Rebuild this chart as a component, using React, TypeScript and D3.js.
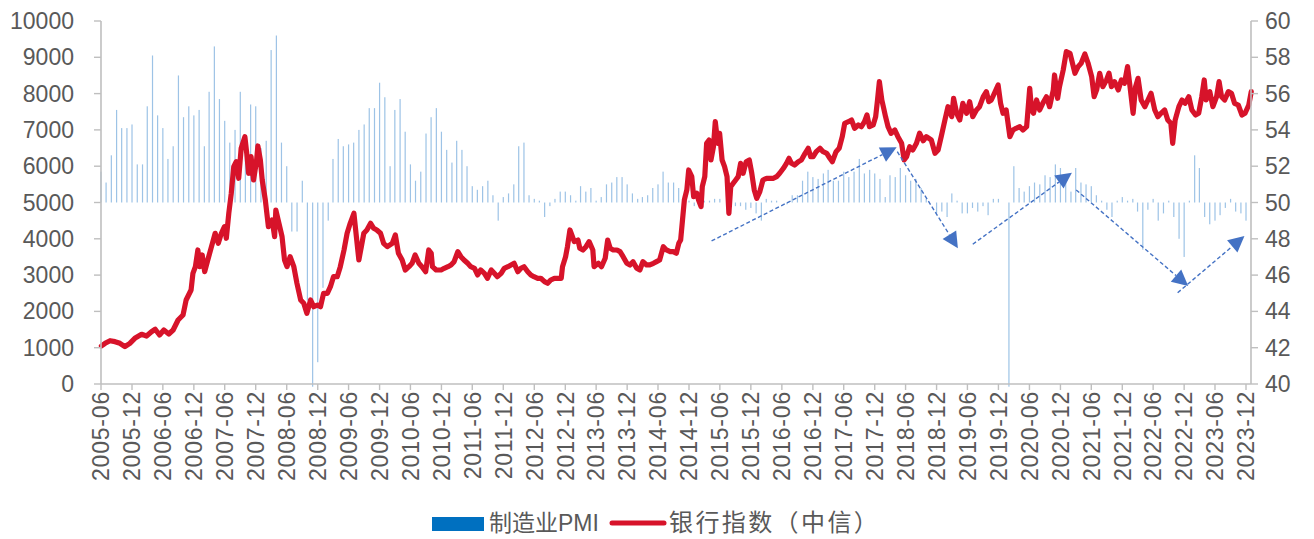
import React from "react";
import * as d3 from "d3";

// ---------------- DATA ----------------
const pmiStartYear = 2005;
const pmiStartMonth = 6; // June
// 制造业PMI monthly, 2005-06 .. 2023-12
const pmiValues: number[] = [
  51.7, 51.1, 52.6, 55.1, 54.1, 54.1, 54.3,
  52.1, 52.1, 55.3, 58.1, 54.8, 54.1, 52.4, 53.1, 57.0, 54.7, 55.3, 54.8,
  55.1, 53.1, 56.1, 58.6, 55.7, 54.5, 53.3, 54.0, 56.1, 53.2, 55.4, 55.3,
  53.0, 53.4, 58.4, 59.2, 53.3, 52.0, 48.4, 48.4, 51.2, 44.6, 38.8, 41.2,
  45.3, 49.0, 52.4, 53.5, 53.1, 53.2, 53.3, 54.0, 54.3, 55.2, 55.2, 56.6,
  55.8, 52.0, 55.1, 55.7, 53.9, 52.1, 51.2, 51.7, 53.8, 54.7, 55.2, 53.9,
  52.9, 52.2, 53.4, 52.9, 52.0, 50.9, 50.7, 50.9, 51.2, 50.4, 49.0, 50.3,
  50.5, 51.0, 53.1, 53.3, 50.4, 50.2, 50.1, 49.2, 49.8, 50.2, 50.6, 50.6,
  50.4, 50.1, 50.9, 50.6, 50.8, 50.1, 50.3, 51.0, 51.1, 51.4, 51.4, 51.0,
  50.5, 50.2, 50.3, 50.4, 50.8, 51.0, 51.7, 51.1, 51.1, 50.8, 50.3, 50.1,
  49.8, 49.9, 50.1, 50.1, 50.2, 50.2, 50.0, 49.7, 49.8, 49.8, 49.6, 49.7,
  49.4, 49.0, 50.2, 50.1, 50.1, 50.0, 49.9, 50.4, 50.4, 51.2, 51.7, 51.4,
  51.3, 51.6, 51.8, 51.2, 51.2, 51.7, 51.4, 51.7, 52.4, 51.6, 51.8, 51.6,
  51.3, 50.3, 51.5, 51.4, 51.9, 51.5, 51.2, 51.3, 50.8, 50.2, 50.0, 49.4,
  49.5, 49.2, 50.5, 50.1, 49.4, 49.4, 49.7, 49.5, 49.8, 49.3, 50.2, 50.2,
  50.0, 35.7, 52.0, 50.8, 50.6, 50.9, 51.1, 51.0, 51.5, 51.4, 52.1, 51.9,
  51.3, 50.6, 51.9, 51.1, 51.0, 50.9, 50.4, 50.1, 49.6, 49.2, 50.1, 50.3,
  50.1, 50.2, 49.5, 47.4, 49.6, 50.2, 49.0, 49.4, 50.1, 49.2, 48.0, 47.0,
  50.1, 52.6, 51.9, 49.2, 48.8, 49.0, 49.3, 49.7, 50.2, 49.5, 49.4, 49.0,
];

// 银行指数（中信）: [decimal year, index level]
const bankIndex: [number, number][] = [
  [2005.42,1047],[2005.48,1121],[2005.56,1193],[2005.64,1166],[2005.72,1121],[2005.80,1029],[2005.88,1121],[2005.96,1258],
  [2006.07,1369],[2006.15,1322],[2006.23,1441],[2006.29,1507],[2006.36,1350],[2006.43,1488],[2006.51,1378],[2006.58,1488],
  [2006.66,1763],[2006.74,1901],[2006.79,2314],[2006.87,2590],[2006.90,3049],[2006.94,3232],[2006.98,3692],[2007.01,3232],
  [2007.05,3554],[2007.09,3094],[2007.14,3416],[2007.20,3783],[2007.26,4152],[2007.31,3876],[2007.36,4152],[2007.41,4334],
  [2007.44,4014],[2007.48,4703],[2007.52,5254],[2007.56,5987],[2007.60,6124],[2007.64,5667],[2007.68,6493],[2007.74,6813],
  [2007.77,6356],[2007.80,5805],[2007.84,6262],[2007.88,5620],[2007.93,6171],[2007.95,6557],[2007.99,6171],
  [2008.02,5620],[2008.07,5069],[2008.12,4334],[2008.18,4518],[2008.22,4058],[2008.24,4794],[2008.29,4427],[2008.34,4058],
  [2008.38,3416],[2008.42,3232],[2008.47,3508],[2008.53,3232],[2008.58,2774],[2008.64,2314],[2008.69,2223],[2008.74,1948],
  [2008.80,2314],[2008.85,2130],[2008.91,2176],[2008.96,2130],[2009.01,2499],[2009.07,2499],[2009.12,2681],[2009.17,2956],
  [2009.23,2956],[2009.28,3232],[2009.34,3692],[2009.39,4152],[2009.44,4427],[2009.50,4703],[2009.54,4058],[2009.58,3416],
  [2009.62,3783],[2009.66,4152],[2009.71,4243],[2009.77,4427],[2009.82,4289],[2009.87,4243],[2009.93,4152],[2009.98,3876],
  [2010.04,3783],[2010.12,3876],[2010.17,4105],[2010.22,3600],[2010.28,3416],[2010.33,3141],[2010.39,3232],[2010.44,3325],
  [2010.49,3554],[2010.55,3325],[2010.60,3232],[2010.66,3094],
  [2010.71,3692],[2010.75,3600],[2010.77,3232],[2010.83,3141],[2010.91,3141],[2010.96,3187],[2011.02,3232],[2011.07,3279],
  [2011.12,3370],[2011.18,3646],[2011.23,3508],[2011.28,3416],[2011.34,3325],[2011.39,3232],[2011.45,3187],[2011.50,3003],
  [2011.55,3141],[2011.61,3049],[2011.66,2912],[2011.72,3141],[2011.77,3049],[2011.82,2956],[2011.88,3049],[2011.93,3187],
  [2011.99,3232],[2012.04,3279],[2012.09,3325],[2012.15,3094],[2012.20,3187],[2012.25,3232],[2012.31,3094],[2012.36,3003],
  [2012.41,2956],[2012.47,2912],[2012.52,2912],[2012.58,2819],[2012.63,2774],[2012.68,2865],[2012.74,2912],[2012.79,2912],
  [2012.85,2912],[2012.87,3232],[2012.92,3508],[2012.95,3783],[2012.99,4243],[2013.02,4105],[2013.06,3921],[2013.12,3967],
  [2013.15,3738],[2013.20,3692],[2013.25,3783],[2013.30,3921],[2013.36,3692],[2013.38,3232],
  [2013.45,3325],[2013.50,3232],[2013.56,3463],[2013.60,3967],[2013.64,3738],[2013.69,3692],[2013.75,3692],[2013.80,3646],
  [2013.85,3508],[2013.91,3325],[2013.96,3279],[2014.01,3370],[2014.07,3187],[2014.12,3141],[2014.17,3370],[2014.23,3279],
  [2014.28,3279],[2014.34,3325],[2014.39,3370],[2014.44,3416],[2014.50,3783],[2014.55,3692],[2014.61,3646],[2014.66,3646],
  [2014.71,3600],[2014.75,3876],[2014.78,3967],[2014.81,4518],[2014.84,5069],[2014.88,5345],[2014.91,5896],[2014.96,5712],
  [2014.99,5161],[2015.04,5254],[2015.07,5069],[2015.11,4885],[2015.13,5437],[2015.17,5712],[2015.20,6631],[2015.24,6722],
  [2015.27,6171],[2015.31,6538],[2015.34,7226],[2015.38,6631],[2015.41,6907],[2015.45,6171],[2015.49,5987],[2015.53,5712],
  [2015.56,4703],[2015.59,5437],[2015.63,5529],[2015.67,5620],[2015.71,5712],[2015.75,6080],[2015.79,5805],[2015.84,6124],
  [2015.89,6171],[2015.93,5805],[2015.97,5345],[2016.01,5116],[2016.06,5300],
  [2016.11,5620],[2016.17,5667],[2016.22,5667],[2016.28,5667],[2016.33,5712],[2016.38,5805],[2016.44,5942],[2016.49,6080],
  [2016.53,6218],[2016.57,6080],[2016.62,6033],[2016.68,6124],[2016.73,6171],[2016.79,6356],[2016.84,6493],[2016.88,6262],
  [2016.92,6262],[2016.97,6400],[2017.03,6493],[2017.08,6400],[2017.14,6356],[2017.19,6218],[2017.23,6124],[2017.29,6400],
  [2017.34,6493],[2017.39,6813],[2017.43,7182],[2017.49,7226],[2017.54,7273],[2017.59,7045],[2017.65,7136],[2017.70,7089],
  [2017.75,7226],[2017.79,7411],[2017.83,7089],[2017.89,7136],[2017.93,7364],[2017.96,7824],[2017.99,8328],[2018.03,7824],
  [2018.06,7595],[2018.09,7364],[2018.13,7089],[2018.18,6907],[2018.24,6998],[2018.29,6813],[2018.35,6631],[2018.39,6171],
  [2018.43,6262],[2018.48,6538],[2018.53,6447],[2018.59,6631],[2018.64,6907],
  [2018.70,6700],[2018.75,6813],[2018.83,6722],[2018.89,6356],[2018.94,6447],[2018.99,6813],[2019.05,7273],[2019.10,7640],
  [2019.16,7364],[2019.19,7871],[2019.24,7457],[2019.29,7273],[2019.34,7733],[2019.40,7457],[2019.45,7778],[2019.50,7364],
  [2019.56,7549],[2019.61,7640],[2019.67,7915],[2019.72,8053],[2019.76,7778],[2019.80,7824],[2019.85,8009],[2019.91,8237],
  [2019.95,7733],[2019.99,7457],[2020.04,7549],[2020.10,6813],[2020.15,6998],[2020.20,7045],[2020.26,7089],[2020.31,6998],
  [2020.37,7089],[2020.42,8146],[2020.45,7549],[2020.48,7457],[2020.53,7824],[2020.58,7549],[2020.63,7733],[2020.69,7915],
  [2020.74,7640],[2020.80,8100],[2020.82,8513],[2020.87,7871],[2020.90,8191],[2020.96,8651],[2021.01,9155],[2021.07,9111],
  [2021.11,8835],[2021.15,8560],[2021.20,8742],[2021.25,8835],
  [2021.31,9090],[2021.36,8850],[2021.42,8466],[2021.46,7915],[2021.50,8100],[2021.55,8560],[2021.60,8191],[2021.66,8375],
  [2021.70,8560],[2021.74,8191],[2021.79,8329],[2021.85,8100],[2021.90,8375],[2021.95,8283],[2022.00,8742],[2022.04,8191],
  [2022.09,7457],[2022.13,8191],[2022.17,8421],[2022.22,7824],[2022.28,7640],[2022.33,7824],[2022.38,8009],[2022.44,7549],
  [2022.49,7364],[2022.54,7457],[2022.60,7549],[2022.65,7273],[2022.70,7182],[2022.73,6631],[2022.77,7273],[2022.83,7640],
  [2022.88,7824],[2022.93,7733],[2022.99,7915],[2023.04,7549],[2023.10,7411],[2023.15,7457],[2023.20,7915],[2023.24,8375],
  [2023.27,7824],[2023.33,8053],[2023.38,7640],[2023.44,7915],[2023.48,8329],[2023.52,7915],[2023.57,7824],[2023.63,8053],
  [2023.68,8009],[2023.73,7733],[2023.79,7686],[2023.85,7411],[2023.90,7457],[2023.96,7686],[2024.00,8053],
];

const xTickLabels: string[] = [
  "2005-06","2005-12","2006-06","2006-12","2007-06","2007-12","2008-06","2008-12",
  "2009-06","2009-12","2010-06","2010-12","2011-06","2011-12","2012-06","2012-12",
  "2013-06","2013-12","2014-06","2014-12","2015-06","2015-12","2016-06","2016-12",
  "2017-06","2017-12","2018-06","2018-12","2019-06","2019-12","2020-06","2020-12",
  "2021-06","2021-12","2022-06","2022-12","2023-06","2023-12",
];
const leftTicks: number[] = [0,1000,2000,3000,4000,5000,6000,7000,8000,9000,10000];
const rightTicks: number[] = [40,42,44,46,48,50,52,54,56,58,60];

// trend arrows in (decimal year, PMI) units: [t0, v0, t1, v1]
const trendArrows: [number, number, number, number][] = [
  [2015.28, 47.88, 2018.27, 53.04],
  [2018.28, 52.80, 2019.26, 47.48],
  [2019.50, 47.70, 2021.10, 51.64],
  [2021.17, 50.69, 2022.98, 45.40],
  [2022.81, 45.03, 2023.89, 48.15],
];

const legendItems = ["制造业PMI", "银行指数（中信）"];

// ---------------- CHART ----------------
const W = 1314;
const H = 539;
const L = 101, R = 1251, T = 21, B = 384;
const FONT = "'Liberation Sans', Arial, 'Noto Sans CJK SC', sans-serif";
const TEXT = "#595959";
const AXIS = "#bfbfbf";
const RED = "#d7132a";
const BAR = "#9dc3e6";
const ARROW = "#4472c4";

function decToDate(t: number): Date {
  const y = Math.floor(t);
  const a = new Date(y, 0, 1).getTime();
  const b = new Date(y + 1, 0, 1).getTime();
  return new Date(a + (t - y) * (b - a));
}
function labelToDate(s: string): Date {
  const [y, m] = s.split("-").map(Number);
  return new Date(y, m - 1, 1);
}

export default function App() {
  const x = d3.scaleTime()
    .domain([new Date(2005, 5, 1), new Date(2023, 11, 1)])
    .range([L, 1246]);
  const yL = d3.scaleLinear().domain([0, 10000]).range([B, T]);
  const yR = d3.scaleLinear().domain([40, 60]).range([B, T]);

  const bars = pmiValues.map((v, i) => {
    const d = new Date(pmiStartYear, pmiStartMonth - 1 + i, 1);
    const cx = x(d);
    const vv = Math.max(v, 39.85);
    const y0 = yR(Math.max(vv, 50));
    const y1 = yR(Math.min(vv, 50));
    return { cx, y: y0, h: Math.max(y1 - y0, 0), key: i };
  });

  const line = d3.line<[number, number]>()
    .x((d) => x(decToDate(d[0])))
    .y((d) => yL(d[1]))
    .curve(d3.curveLinear);
  const linePath = line(bankIndex) || "";

  const arrows = trendArrows.map(([t0, v0, t1, v1], i) => {
    const x0 = x(decToDate(t0)), y0 = yR(v0);
    const x1 = x(decToDate(t1)), y1 = yR(v1);
    const dx = x1 - x0, dy = y1 - y0;
    const len = Math.hypot(dx, dy);
    const ux = dx / len, uy = dy / len;
    const headLen = 16, halfW = 8;
    const bx = x1 - ux * headLen, by = y1 - uy * headLen;
    const nx = -uy, ny = ux;
    const pts = [
      [x1, y1],
      [bx + nx * halfW, by + ny * halfW],
      [bx - nx * halfW, by - ny * halfW],
    ].map((p) => p.join(",")).join(" ");
    return { i, x0, y0, bx, by, pts };
  });

  return (
    <svg
      width={W}
      height={H}
      viewBox={`0 0 ${W} ${H}`}
      style={{ position: "absolute", left: 0, top: 0, background: "#fff" }}
      fontFamily={FONT}
    >
      <defs>
        <clipPath id="plotClip">
          <rect x={L - 3} y={T - 3} width={R - L + 6} height={B - T + 6} />
        </clipPath>
      </defs>

      {/* PMI bars */}
      <g clipPath="url(#plotClip)">
        {bars.map((b) => (
          <rect key={b.key} x={b.cx - 0.6} y={b.y} width={1.2} height={b.h} fill={BAR} />
        ))}
      </g>

      {/* Bank index line */}
      <path
        d={linePath}
        fill="none"
        stroke={RED}
        strokeWidth={5.2}
        strokeLinejoin="round"
        strokeLinecap="round"
      />

      {/* trend arrows */}
      {arrows.map((a) => (
        <g key={a.i}>
          <line
            x1={a.x0}
            y1={a.y0}
            x2={a.bx}
            y2={a.by}
            stroke={ARROW}
            strokeWidth={1.4}
            strokeDasharray="4,2.5"
          />
          <polygon points={a.pts} fill={ARROW} />
        </g>
      ))}

      {/* Left axis */}
      <line x1={L} y1={T} x2={L} y2={B} stroke={AXIS} strokeWidth={1.6} />
      {leftTicks.map((t) => (
        <g key={"l" + t}>
          <line x1={L - 7} x2={L} y1={yL(t)} y2={yL(t)} stroke={AXIS} strokeWidth={1.4} />
          <text
            x={74}
            y={yL(t)}
            dy="0.35em"
            textAnchor="end"
            fontSize={23}
            fill={TEXT}
          >
            {t}
          </text>
        </g>
      ))}

      {/* Right axis */}
      <line x1={R} y1={T} x2={R} y2={B} stroke={AXIS} strokeWidth={1.6} />
      {rightTicks.map((t) => (
        <g key={"r" + t}>
          <line x1={R} x2={R + 7} y1={yR(t)} y2={yR(t)} stroke={AXIS} strokeWidth={1.4} />
          <text x={1265} y={yR(t)} dy="0.35em" textAnchor="start" fontSize={23} fill={TEXT}>
            {t}
          </text>
        </g>
      ))}

      {/* Bottom axis */}
      <line x1={L} y1={B} x2={R} y2={B} stroke={AXIS} strokeWidth={1.6} />
      {xTickLabels.map((s) => {
        const tx = x(labelToDate(s));
        return (
          <g key={s}>
            <line x1={tx} x2={tx} y1={B} y2={B + 6} stroke={AXIS} strokeWidth={1.4} />
            <text
              transform={`translate(${tx},${B + 7}) rotate(-90)`}
              dy="0.36em"
              textAnchor="end"
              fontSize={23}
              letterSpacing={0.8}
              fill={TEXT}
            >
              {s}
            </text>
          </g>
        );
      })}

      {/* Legend */}
      <rect x={432} y={517} width={52} height={14} fill="#0070c0" />
      <text x={489} y={531} fontSize={23} fill={TEXT}>
        {legendItems[0]}
      </text>
      <line x1={612} y1={523} x2={664} y2={523} stroke={RED} strokeWidth={5} strokeLinecap="round" />
      <text x={669} y={531} fontSize={24} letterSpacing={2.4} fill={TEXT}>
        {legendItems[1]}
      </text>
    </svg>
  );
}
